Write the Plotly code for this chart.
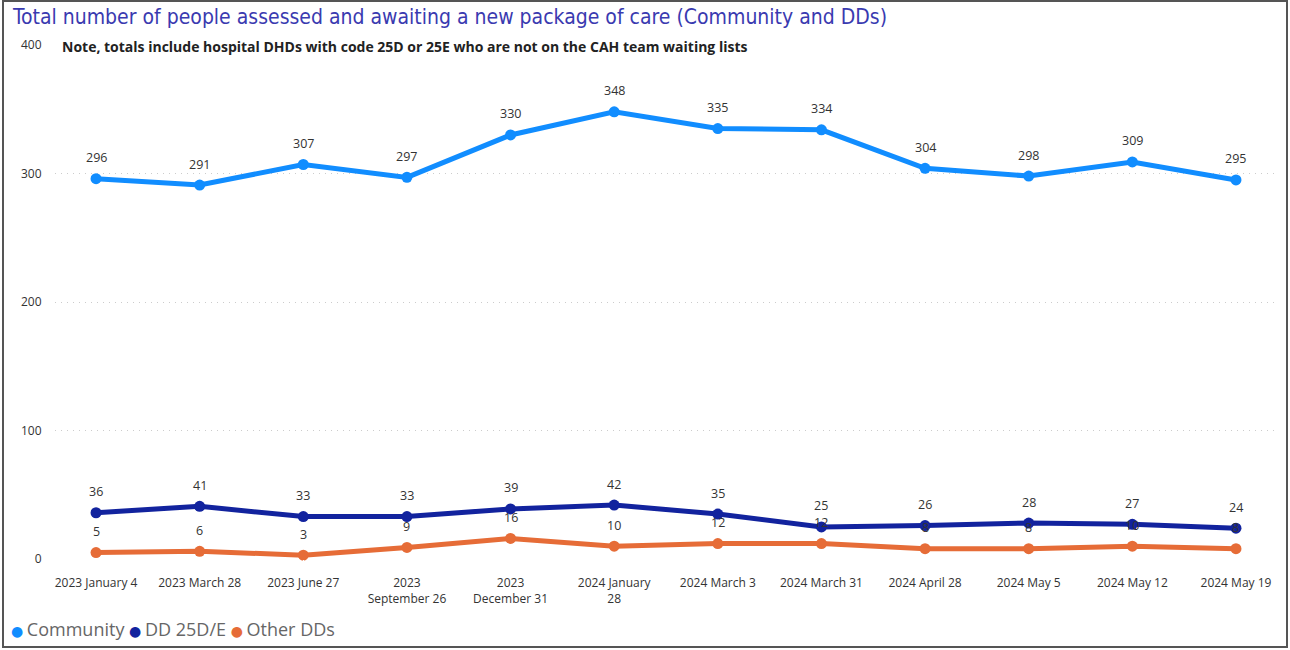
import plotly.graph_objects as go

categories = ["2023 January 4", "2023 March 28", "2023 June 27", "2023<br>September 26",
              "2023<br>December 31", "2024 January<br>28", "2024 March 3", "2024 March 31",
              "2024 April 28", "2024 May 5", "2024 May 12", "2024 May 19"]
community = [296, 291, 307, 297, 330, 348, 335, 334, 304, 298, 309, 295]
dd_25de = [36, 41, 33, 33, 39, 42, 35, 25, 26, 28, 27, 24]
other_dds = [5, 6, 3, 9, 16, 10, 12, 12, 8, 8, 10, 8]
y_ticks = [0, 100, 200, 300, 400]

series = [
    ("Community", community, "#118DFF"),
    ("DD 25D/E", dd_25de, "#12239E"),
    ("Other DDs", other_dds, "#E66C37"),
]

FONT = "Open Sans, DejaVu Sans"
xs = list(range(len(categories)))
fig = go.Figure()
for name, vals, color in series:
    fig.add_trace(go.Scatter(
        x=xs, y=vals, mode="lines+markers", name=name,
        line=dict(color=color, width=5), marker=dict(color=color, size=11),
        showlegend=False, cliponaxis=False))
for name, vals, color in series:
    for x, v in zip(xs, vals):
        fig.add_annotation(x=x, y=v, text=str(v), showarrow=False, yshift=21,
                           xanchor="center", yanchor="middle",
                           font=dict(family=FONT, size=12.5, color="#333333"))

# layout geometry (pixels)
W, H = 1290, 650
L, R, T, B = 55, 16, 45, 91
pw, ph = W - L - R, H - T - B

def px(p):
    return (p - L) / pw

def py(p):
    return (H - B - p) / ph

fig.update_layout(
    width=W, height=H,
    margin=dict(l=L, r=R, t=T, b=B, autoexpand=False),
    paper_bgcolor="white", plot_bgcolor="white",
    font=dict(family=FONT, color="#333333"),
    xaxis=dict(tickmode="array", tickvals=xs, ticktext=categories, automargin=False,
               range=[-0.396, 11.367], showgrid=False, zeroline=False,
               showline=False, ticks="outside", ticklen=13, tickcolor="white",
               tickfont=dict(size=12, color="#333333")),
    yaxis=dict(tickmode="array", tickvals=y_ticks, range=[0, 400], automargin=False,
               showgrid=True, gridcolor="#cccccc", griddash="1px,5px", gridwidth=1,
               zeroline=False, showline=False, ticks="outside", ticklen=10,
               tickcolor="white", tickfont=dict(size=12, color="#333333")),
    showlegend=False,
)

legend_text = " ".join(
    f"<span style='color:{c};font-size:14px'>● </span>{n}" for n, _, c in series)
fig.add_annotation(text=legend_text, xref="paper", yref="paper", x=px(9), y=py(629),
                   xanchor="left", yanchor="middle", showarrow=False,
                   font=dict(family=FONT, size=18, color="#666666"))

fig.add_annotation(text="Total number of people assessed and awaiting a new package of care (Community and DDs)",
                   xref="paper", yref="paper", x=px(10), y=py(17), xanchor="left", yanchor="middle",
                   showarrow=False,
                   font=dict(family="DejaVu Sans Condensed, DejaVu Sans", size=21, color="#3A3AB0"))
fig.add_annotation(text="<b>Note, totals include hospital DHDs with code 25D or 25E who are not on the CAH team waiting lists</b>",
                   xref="paper", yref="paper", x=px(60), y=py(46), xanchor="left", yanchor="middle",
                   showarrow=False,
                   font=dict(family=FONT, size=14, color="#222222"))

fig.add_shape(type="rect", xref="paper", yref="paper",
              x0=px(3), x1=px(1287), y0=py(647), y1=py(1),
              line=dict(color="#555555", width=2), fillcolor="rgba(0,0,0,0)", layer="below")

fig.write_html("out.html", config={"displayModeBar": False},
               post_script="document.body.style.margin='0';document.body.style.overflow='hidden';")
